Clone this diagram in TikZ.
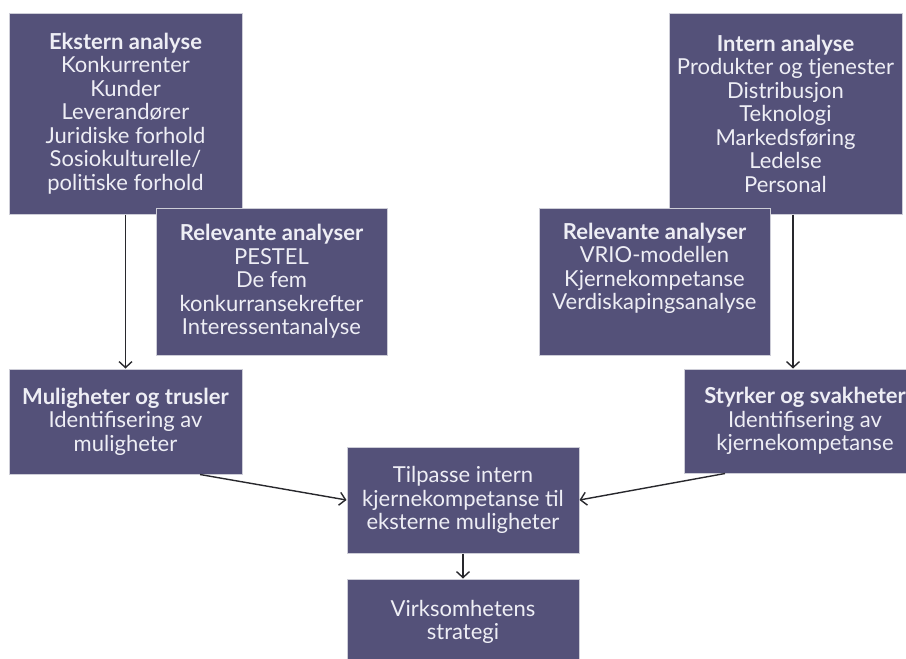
\documentclass[tikz,border=0pt]{standalone}
\usepackage{fontspec}
\setmainfont{Lato}
\usetikzlibrary{arrows.meta}

\definecolor{boksfarge}{RGB}{84,81,121}
\definecolor{kantfarge}{RGB}{205,205,215}
\definecolor{tekstfarge}{RGB}{238,238,245}
\definecolor{pilfarge}{RGB}{40,40,45}

\tikzset{
  boks/.style={draw=kantfarge, line width=1pt, fill=boksfarge, text=tekstfarge,
    inner sep=0pt, align=center, font=\fontsize{22}{23.5}\selectfont},
  pil/.style={draw=pilfarge, line width=1.4pt, -{Straight Barb[length=6pt,width=13pt]}}
}

\begin{document}
\begin{tikzpicture}[x=1pt,y=-1pt]
\clip (0,0) rectangle (906,659);
\fill[white] (0,0) rectangle (906,659);

% analyse-bokser oeverst
\node[boks, minimum width=233pt, minimum height=201pt] (ekstern) at (125.5,113.5)
  {\textbf{Ekstern analyse}\\Konkurrenter\\Kunder\\Leverandører\\Juridiske forhold\\Sosiokulturelle/\\politiske forhold};
\node[boks, minimum width=233pt, minimum height=201pt] (intern) at (785.5,113.5)
  {\textbf{Intern analyse}\\Produkter og tjenester\\Distribusjon\\Teknologi\\Markedsføring\\Ledelse\\Personal};

\node[boks, minimum width=231pt, minimum height=147pt] (relEkstern) at (271.5,281.5)
  {\textbf{Relevante analyser}\\PESTEL\\De fem\\konkurransekrefter\\Interessentanalyse};
\node[boks, minimum width=231pt, minimum height=147pt] (relIntern) at (654.5,281.5)
  {\textbf{Relevante analyser}\\VRIO-modellen\\Kjernekompetanse\\Verdiskapingsanalyse\\\strut};

% resultat-bokser
\node[boks, minimum width=233pt, minimum height=105pt] (muligheter) at (125.5,421.5)
  {\textbf{Muligheter og trusler}\\Identifisering av\\muligheter};
\node[boks, minimum width=242pt, minimum height=104pt] (styrker) at (805,421)
  {\textbf{Styrker og svakheter}\\Identifisering av\\kjernekompetanse};

\node[boks, minimum width=232pt, minimum height=106pt] (tilpasse) at (463,500)
  {Tilpasse intern\\kjernekompetanse til\\eksterne muligheter};
\node[boks, minimum width=232pt, minimum height=86pt] (strategi) at (463,622)
  {Virksomhetens\\strategi};

\draw[pil] (ekstern.south) -- (muligheter.north);
\draw[pil] ([xshift=7.5pt]intern.south) -- ([xshift=7.5pt]intern.south |- styrker.north);
\draw[pil] ([xshift=74.5pt]muligheter.south) -- (tilpasse.west);
\draw[pil] ([xshift=-80pt]styrker.south) -- (tilpasse.east);
\draw[pil] (tilpasse.south) -- (strategi.north);
\end{tikzpicture}
\end{document}
